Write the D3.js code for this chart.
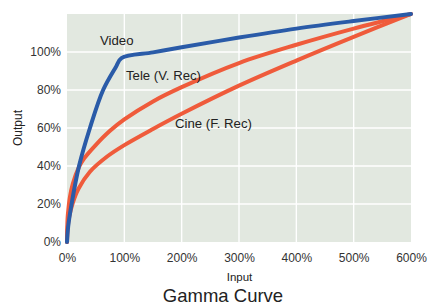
<!DOCTYPE html>
<html>
<head>
<meta charset="utf-8">
<script src="https://cdn.jsdelivr.net/npm/d3@7"></script>
<style>
  html, body { margin: 0; padding: 0; background: #fff; }
  svg { display: block; }
  text { font-family: "Liberation Sans", Arial, sans-serif; }
</style>
</head>
<body>
<svg id="chart" width="428" height="304"></svg>
<script>
// ---- data ----
const xTicks = [0, 100, 200, 300, 400, 500, 600];
const yTicks = [0, 20, 40, 60, 80, 100];

const videoInput  = [0, 2, 8, 21, 40, 63, 85, 95, 150, 200, 300, 400, 500, 600];
const videoOutput = [0, 8, 20, 40, 60, 80, 92, 96.8, 99.8, 102.5, 107.6, 112.3, 116.3, 120];

const teleInput  = [0, 1, 2, 5, 10, 21, 30, 50, 75, 100, 150, 200, 300, 400, 500, 600];
const teleOutput = [0, 12.5, 16, 23.5, 30.5, 39.5, 44, 51, 58.5, 64.5, 74, 81.5, 94.2, 103.8, 112.3, 120];

const cineInput  = [0, 1, 4, 10, 20, 40, 70, 100, 150, 200, 300, 400, 500, 600];
const cineOutput = [0, 7, 13.5, 20.5, 28, 37, 45, 51, 59.5, 67.5, 82.3, 95.5, 108, 120];

const seriesNames  = ["Video", "Tele (V. Rec)", "Cine (F. Rec)"];
const seriesColors = ["#2a5ba8", "#ef5b3b", "#ef5b3b"];

// ---- layout ----
const svg = d3.select("#chart");
const mLeft = 67, mRight = 411, mTop = 14, mBottom = 242;

const x = d3.scaleLinear().domain([0, 600]).range([mLeft, mRight]);
const y = d3.scaleLinear().domain([0, 120]).range([mBottom, mTop]);

// plot background
svg.append("rect")
  .attr("x", mLeft).attr("y", mTop)
  .attr("width", mRight - mLeft).attr("height", mBottom - mTop)
  .attr("fill", "#e2e8e0");

// grid
svg.append("g").selectAll("line").data(xTicks.slice(1, -1)).join("line")
  .attr("x1", d => x(d)).attr("x2", d => x(d))
  .attr("y1", mTop).attr("y2", mBottom)
  .attr("stroke", "#fff").attr("stroke-width", 1.4);
svg.append("g").selectAll("line").data(yTicks.slice(1)).join("line")
  .attr("x1", mLeft).attr("x2", mRight)
  .attr("y1", d => y(d)).attr("y2", d => y(d))
  .attr("stroke", "#fff").attr("stroke-width", 1.4);

// axes (labels only)
const xAxis = svg.append("g").attr("transform", `translate(0,${mBottom})`)
  .call(d3.axisBottom(x).tickValues(xTicks).tickFormat(d => d + "%").tickSize(0).tickPadding(11));
const yAxis = svg.append("g").attr("transform", `translate(${mLeft},0)`)
  .call(d3.axisLeft(y).tickValues(yTicks).tickFormat(d => d + "%").tickSize(0).tickPadding(6));
[xAxis, yAxis].forEach(a => {
  a.select(".domain").remove();
  a.selectAll("text").attr("font-size", 12).attr("fill", "#333")
    .attr("font-family", "Liberation Sans, Arial, sans-serif");
});

// lines
const line = d3.line().x(d => x(d[0])).y(d => y(d[1])).curve(d3.curveCatmullRom.alpha(0.5));
const series = [
  d3.zip(cineInput, cineOutput),
  d3.zip(teleInput, teleOutput),
  d3.zip(videoInput, videoOutput)
];
const cols = [seriesColors[2], seriesColors[1], seriesColors[0]];
svg.append("g").selectAll("path").data(series).join("path")
  .attr("d", line)
  .attr("fill", "none")
  .attr("stroke", (d, i) => cols[i])
  .attr("stroke-width", 4)
  .attr("stroke-linecap", "round")
  .attr("stroke-linejoin", "round");

// series labels
const labelPos = [[100, 45], [126, 80], [175, 128]];
svg.append("g").selectAll("text").data(seriesNames).join("text")
  .attr("x", (d, i) => labelPos[i][0])
  .attr("y", (d, i) => labelPos[i][1])
  .attr("font-size", 13.2).attr("fill", "#222")
  .text(d => d);

// axis titles
svg.append("text").attr("x", 239.5).attr("y", 281)
  .attr("text-anchor", "middle").attr("font-size", 11.5).attr("fill", "#222")
  .text("Input");
svg.append("text").attr("transform", "translate(21.5,128) rotate(-90)")
  .attr("text-anchor", "middle").attr("font-size", 12).attr("fill", "#222")
  .text("Output");
svg.append("text").attr("x", 223).attr("y", 301.5)
  .attr("text-anchor", "middle").attr("font-size", 18.5).attr("fill", "#222")
  .text("Gamma Curve");
</script>
</body>
</html>
